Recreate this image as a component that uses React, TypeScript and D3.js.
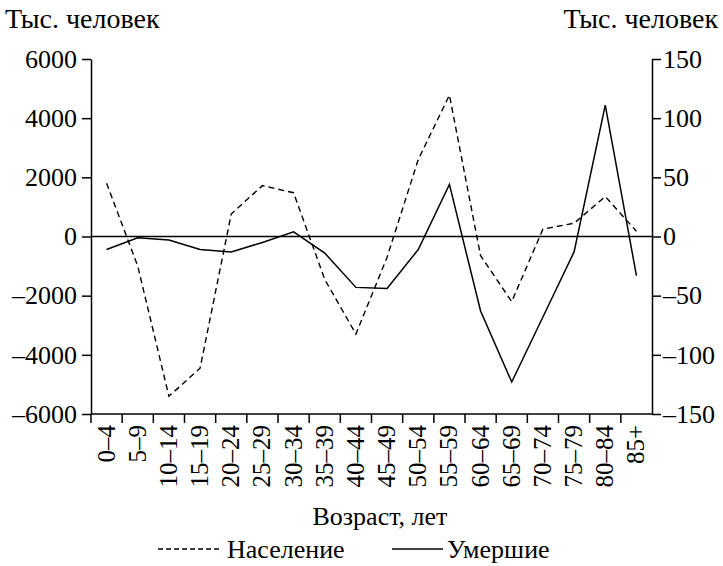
import React, { useEffect, useRef } from 'react';
import * as d3 from 'd3';

// age groups on the x axis
const ageGroups = [
  '0–4', '5–9', '10–14', '15–19', '20–24', '25–29', '30–34', '35–39', '40–44',
  '45–49', '50–54', '55–59', '60–64', '65–69', '70–74', '75–79', '80–84', '85+',
];

// population change, thousand people (left axis)
const population = [
  1800, -1000, -5400, -4450, 760, 1720, 1480, -1450, -3300,
  -700, 2600, 4780, -650, -2200, 250, 450, 1350, 180,
];

// deaths change, thousand people (right axis)
const deaths = [
  -11, -1, -3, -11, -13, -5, 4, -14, -43,
  -44, -11, 44, -63, -123, -68, -13, 111, -33,
];

const leftTicks = [-6000, -4000, -2000, 0, 2000, 4000, 6000];
const rightTicks = [-150, -100, -50, 0, 50, 100, 150];

const fmt = (v: number) => (v < 0 ? '–' + Math.abs(v) : String(v));

const FONT = "'Liberation Serif', 'Times New Roman', Times, 'DejaVu Serif', serif";

const App: React.FC = () => {
  const ref = useRef<HTMLDivElement | null>(null);

  useEffect(() => {
    if (!ref.current) return;
    d3.select(ref.current).selectAll('*').remove();

    const W = 723;
    const H = 566;
    const margin = { top: 59, right: 71, bottom: 152, left: 91 };
    const width = W - margin.left - margin.right;
    const height = H - margin.top - margin.bottom;

    const svg = d3.select(ref.current)
      .append('svg')
      .attr('width', W)
      .attr('height', H)
      .style('display', 'block')
      .style('font-family', FONT);

    const g = svg.append('g')
      .attr('transform', `translate(${margin.left},${margin.top})`);

    const x = d3.scaleBand<string>()
      .domain(ageGroups)
      .range([0, width]);

    const yL = d3.scaleLinear().domain([-6000, 6000]).range([height, 0]);
    const yR = d3.scaleLinear().domain([-150, 150]).range([height, 0]);

    const cx = (i: number) => (x(ageGroups[i]) || 0) + x.bandwidth() / 2;

    const label = (size: number) => (sel: d3.Selection<SVGTextElement, any, any, any>) =>
      sel.style('font-family', FONT).style('font-size', size + 'px').attr('fill', '#000');

    // left axis
    const left = g.append('g')
      .call(d3.axisLeft(yL).tickValues(leftTicks).tickSize(9).tickSizeOuter(0).tickFormat(d => fmt(+d)));
    // right axis
    const right = g.append('g')
      .attr('transform', `translate(${width},0)`)
      .call(d3.axisRight(yR).tickValues(rightTicks).tickSize(9).tickSizeOuter(0).tickFormat(d => fmt(+d)));

    [left, right].forEach(a => {
      a.attr('font-family', null).attr('font-size', null);
      a.select('.domain').attr('stroke', '#000').attr('stroke-width', 1.5);
      a.selectAll('line').attr('stroke', '#000').attr('stroke-width', 1.5);
      a.selectAll<SVGTextElement, any>('text').call(label(26));
    });
    left.selectAll('text').attr('x', -14);
    right.selectAll('text').attr('x', 11);

    // bottom axis: ticks at band boundaries
    const bottom = g.append('g').attr('transform', `translate(0,${height})`);
    bottom.append('line')
      .attr('x1', 0).attr('x2', width)
      .attr('stroke', '#000').attr('stroke-width', 1.5);
    bottom.selectAll('line.tk')
      .data(ageGroups)
      .enter()
      .append('line')
      .attr('class', 'tk')
      .attr('x1', d => x(d) || 0)
      .attr('x2', d => x(d) || 0)
      .attr('y1', 0)
      .attr('y2', 9)
      .attr('stroke', '#000')
      .attr('stroke-width', 1.5);
    bottom.selectAll('text')
      .data(ageGroups)
      .enter()
      .append('text')
      .attr('transform', (d, i) => `translate(${cx(i) + 8},11) rotate(-90)`)
      .attr('text-anchor', 'end')
      .call(label(25))
      .text(d => d);

    // zero line
    g.append('line')
      .attr('x1', 0).attr('x2', width)
      .attr('y1', yL(0)).attr('y2', yL(0))
      .attr('stroke', '#000').attr('stroke-width', 1.5);

    const linePop = d3.line<number>()
      .x((d, i) => cx(i))
      .y(d => yL(d));
    const lineDeaths = d3.line<number>()
      .x((d, i) => cx(i))
      .y(d => yR(d));

    g.append('path')
      .datum(population)
      .attr('d', linePop)
      .attr('fill', 'none')
      .attr('stroke', '#000')
      .attr('stroke-width', 1.4)
      .attr('stroke-dasharray', '6,4');

    g.append('path')
      .datum(deaths)
      .attr('d', lineDeaths)
      .attr('fill', 'none')
      .attr('stroke', '#000')
      .attr('stroke-width', 1.5);

    // axis titles
    svg.append('text')
      .attr('x', 5).attr('y', 28)
      .call(label(28))
      .text('Тыс. человек');
    svg.append('text')
      .attr('x', 718).attr('y', 28)
      .attr('text-anchor', 'end')
      .call(label(28))
      .text('Тыс. человек');
    svg.append('text')
      .attr('x', 380).attr('y', 525)
      .attr('text-anchor', 'middle')
      .call(label(26))
      .text('Возраст, лет');

    // legend
    const leg = svg.append('g').attr('transform', 'translate(0,549)');
    leg.append('line')
      .attr('x1', 158).attr('x2', 222)
      .attr('stroke', '#000').attr('stroke-width', 1.4)
      .attr('stroke-dasharray', '5,3');
    leg.append('text')
      .attr('x', 227).attr('y', 9)
      .call(label(26))
      .text('Население');
    leg.append('line')
      .attr('x1', 392).attr('x2', 443)
      .attr('stroke', '#000').attr('stroke-width', 1.5);
    leg.append('text')
      .attr('x', 447).attr('y', 9)
      .call(label(26))
      .text('Умершие');
  }, []);

  return <div ref={ref} style={{ position: 'absolute', left: 0, top: 0 }} />;
};

export default App;
